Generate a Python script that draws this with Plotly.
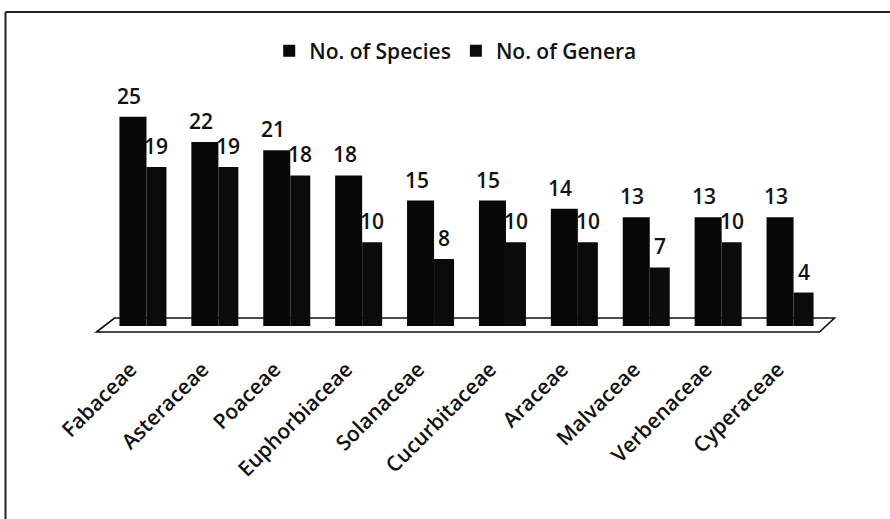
import plotly.graph_objects as go

families = ["Fabaceae", "Asteraceae", "Poaceae", "Euphorbiaceae", "Solanaceae",
            "Cucurbitaceae", "Araceae", "Malvaceae", "Verbenaceae", "Cyperaceae"]
species = [25, 22, 21, 18, 15, 15, 14, 13, 13, 13]
genera = [19, 19, 18, 10, 8, 10, 10, 7, 10, 4]

FONT = "Open Sans, Arial, sans-serif"
WEIGHT = 600
xs = list(range(len(families)))

# plot geometry helpers (pixels -> paper)
L, W, T, H = 107.5, 719.0, 75.0, 251.0
def px(x):
    return (x - L) / W
def py(y):
    return (T + H - y) / H

sp_off, sp_w = -0.327, 0.376
ge_off, ge_w = 0.049, 0.278
label_shift = -0.17

fig = go.Figure()
fig.add_trace(go.Bar(
    x=xs, y=genera, name="No. of Genera", offset=ge_off, width=ge_w,
    marker=dict(color="#0b0b0b", line=dict(width=0)), showlegend=True))
fig.add_trace(go.Bar(
    x=xs, y=species, name="No. of Species", offset=sp_off, width=sp_w,
    marker=dict(color="#080808", line=dict(width=0)), showlegend=True))

annotations = []
for i, v in enumerate(species):
    annotations.append(dict(x=i + sp_off + sp_w / 2, y=v, text=str(v), showarrow=False,
                            xref="x", yref="y", yanchor="bottom", xshift=-4, yshift=5,
                            font=dict(family=FONT, size=21, color="#111", weight=WEIGHT)))
for i, v in enumerate(genera):
    annotations.append(dict(x=i + ge_off + ge_w / 2, y=v, text=str(v), showarrow=False,
                            xref="x", yref="y", yanchor="bottom", xshift=0, yshift=5,
                            font=dict(family=FONT, size=21, color="#111", weight=WEIGHT)))

shapes = [
    # floor
    dict(type="path", xref="paper", yref="paper", layer="below",
         path=f"M{px(97)},{py(332)} L{px(115)},{py(318)} L{px(835)},{py(318)} L{px(820)},{py(332)} Z",
         line=dict(color="#111", width=1.6), fillcolor="white"),
    # frame (left and top edges)
    dict(type="line", xref="paper", yref="paper", x0=px(6), x1=px(6), y0=py(12), y1=py(540),
         line=dict(color="#222", width=2)),
    dict(type="line", xref="paper", yref="paper", x0=px(6), x1=px(900), y0=py(12), y1=py(12),
         line=dict(color="#222", width=2)),
]

fig.update_layout(
    width=890, height=519,
    margin=dict(l=107, r=64, t=75, b=193, autoexpand=False),
    paper_bgcolor="white", plot_bgcolor="white",
    barmode="overlay",
    font=dict(family=FONT, color="#111"),
    legend=dict(orientation="h", x=0.485, xanchor="center", y=1.095, yanchor="middle",
                font=dict(family=FONT, size=21, color="#111", weight=WEIGHT), traceorder="reversed",
                bgcolor="rgba(0,0,0,0)"),
    xaxis=dict(range=[-0.5, 9.5], tickvals=[i + label_shift for i in xs], ticktext=families,
               tickangle=-45, showgrid=False, zeroline=False, showline=False, ticks="",
               tickfont=dict(family=FONT, size=21, color="#111", weight=WEIGHT),
               ticklabelstandoff=26, automargin=False),
    yaxis=dict(range=[0, 30], visible=False, showgrid=False, zeroline=False, automargin=False),
    annotations=annotations,
    shapes=shapes,
)

fig.write_html("out.html", config={"displayModeBar": False},
               post_script="document.body.style.margin='0';document.body.style.padding='0';")
